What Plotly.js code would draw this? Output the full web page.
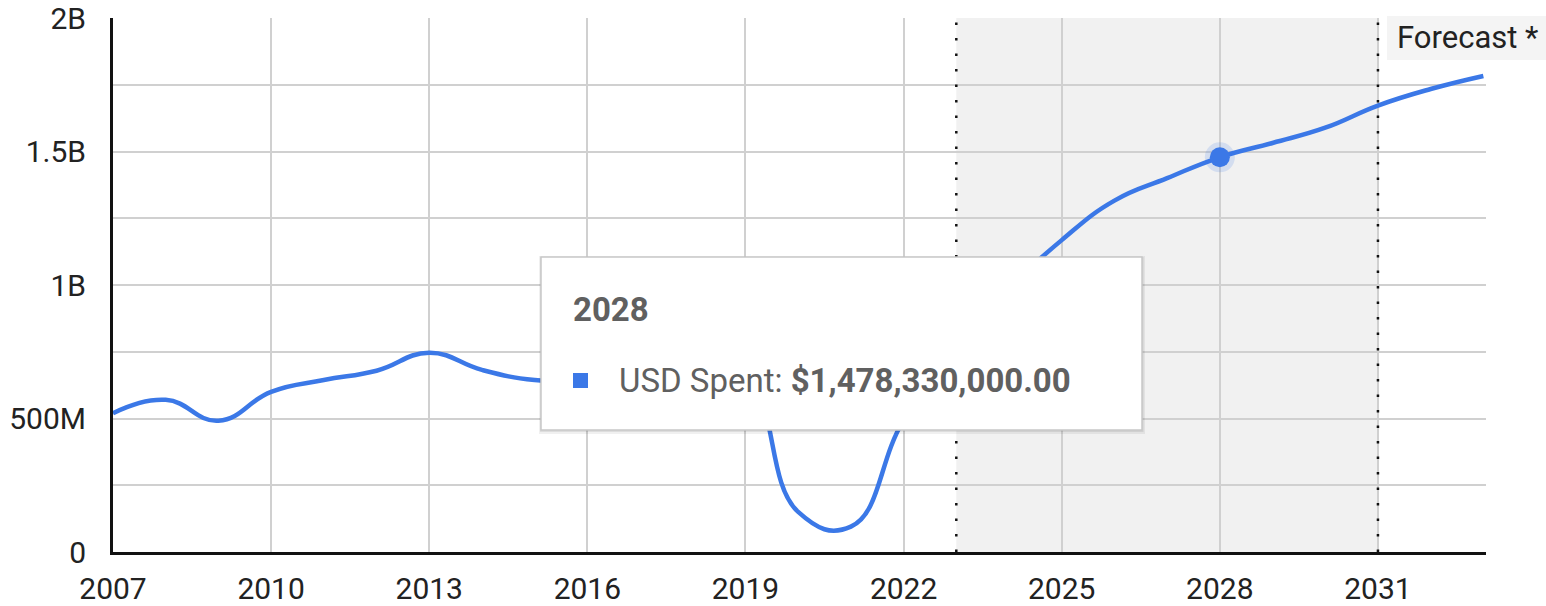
<!DOCTYPE html>
<html>
<head>
<meta charset="utf-8">
<script src="https://cdn.plot.ly/plotly-3.0.1.min.js"></script>
<style>
  html, body { margin: 0; padding: 0; background: #ffffff; }
  #chart { width: 1546px; height: 606px; }
</style>
</head>
<body>
<div id="chart"></div>
<script>
// ---------------- data ----------------
const years = [2007, 2008, 2009, 2010, 2011, 2012, 2013, 2014, 2015, 2016,
               2017, 2018, 2019, 2020, 2021, 2022, 2023, 2024, 2025, 2026,
               2027, 2028, 2029, 2030, 2031, 2032, 2033];
const usdSpent = [520e6, 570e6, 492e6, 600e6, 644e6, 679e6, 746e6, 682e6, 644e6, 640e6,
                  655e6, 680e6, 660e6, 150e6, 95e6, 494e6, 760e6, 985e6, 1168e6, 1316e6,
                  1400e6, 1478.33e6, 1532e6, 1589e6, 1672e6, 1734e6, 1783e6];
const xTickVals = [2007, 2010, 2013, 2016, 2019, 2022, 2025, 2028, 2031];
const xTickText = ["2007", "2010", "2013", "2016", "2019", "2022", "2025", "2028", "2031"];
const yTickVals = [0, 5e8, 1e9, 1.5e9, 2e9];
const yTickText = ["0", "500M", "1B", "1.5B", "2B"];
const forecastStart = 2023;
const forecastEnd = 2031;
const forecastLabel = "Forecast *";
const seriesName = "USD Spent";
const highlightYear = 2028;

// ---------------- layout helpers ----------------
const W = 1546, H = 606;
const ML = 113, MR = 60, MT = 18, MB = 54;
const PW = W - ML - MR, PH = H - MT - MB;
const px = x => (x - ML) / PW;          // pixel -> paper x
const py = y => (MT + PH - y) / PH;     // pixel -> paper y

const blue = "#3b78e7";
const hiIdx = years.indexOf(highlightYear);
const hiVal = usdSpent[hiIdx];
const hiText = "$" + hiVal.toLocaleString("en-US", {minimumFractionDigits: 2, maximumFractionDigits: 2});

const traces = [
  {
    x: years, y: usdSpent, type: "scatter", mode: "lines",
    line: {color: blue, width: 4.5, shape: "spline", smoothing: 1.3},
    hoverinfo: "skip"
  },
  {
    x: [highlightYear], y: [hiVal], type: "scatter", mode: "markers",
    marker: {color: "rgba(59,120,231,0.16)", size: 30, line: {width: 0}},
    hoverinfo: "skip"
  },
  {
    x: [highlightYear], y: [hiVal], type: "scatter", mode: "markers",
    marker: {color: blue, size: 20, line: {width: 0}},
    hoverinfo: "skip"
  }
];

const tipX0 = 541, tipX1 = 1142, tipY0 = 257, tipY1 = 430;

const shapes = [
  {type: "rect", layer: "below", xref: "x", yref: "paper",
   x0: forecastStart, x1: forecastEnd, y0: 0, y1: 1,
   fillcolor: "#f1f1f1", line: {width: 0}},
  {type: "line", layer: "above", xref: "x", yref: "paper",
   x0: forecastStart, x1: forecastStart, y0: 0, y1: 1,
   line: {color: "#111", width: 2.5, dash: "2.5px,13px"}},
  {type: "line", layer: "above", xref: "x", yref: "paper",
   x0: forecastEnd, x1: forecastEnd, y0: 0, y1: 1,
   line: {color: "#111", width: 2.5, dash: "2.5px,13px"}},
  // forecast label background
  {type: "rect", layer: "above", xref: "paper", yref: "paper",
   x0: px(1387), x1: px(1546), y0: py(60), y1: py(16),
   fillcolor: "#f4f4f4", line: {width: 0}},
  // tooltip shadow
  {type: "rect", layer: "above", xref: "paper", yref: "paper",
   x0: px(tipX0 - 2), x1: px(tipX1 + 3), y0: py(tipY1 + 4), y1: py(tipY0 - 1),
   fillcolor: "rgba(0,0,0,0.06)", line: {width: 0}},
  {type: "rect", layer: "above", xref: "paper", yref: "paper",
   x0: px(tipX0 - 1), x1: px(tipX1 + 1.5), y0: py(tipY1 + 2), y1: py(tipY0),
   fillcolor: "rgba(0,0,0,0.08)", line: {width: 0}},
  // tooltip box
  {type: "rect", layer: "above", xref: "paper", yref: "paper",
   x0: px(tipX0), x1: px(tipX1), y0: py(tipY1), y1: py(tipY0),
   fillcolor: "#ffffff", line: {color: "#c8c8c8", width: 1.5}},
  // legend square in tooltip
  {type: "rect", layer: "above", xref: "paper", yref: "paper",
   x0: px(573), x1: px(588), y0: py(388), y1: py(373),
   fillcolor: blue, line: {width: 0}}
];

const annotations = [
  {xref: "paper", yref: "paper", x: px(1395), y: py(38), xanchor: "left", yanchor: "middle",
   text: forecastLabel, showarrow: false,
   font: {family: "Roboto", size: 31, color: "#222"}},
  {xref: "paper", yref: "paper", x: px(571), y: py(309), xanchor: "left", yanchor: "middle",
   text: "<b>" + highlightYear + "</b>", showarrow: false,
   font: {family: "Roboto", size: 33, color: "#606060"}},
  {xref: "paper", yref: "paper", x: px(617), y: py(380), xanchor: "left", yanchor: "middle",
   text: seriesName + ": <b>" + hiText + "</b>", showarrow: false,
   font: {family: "Roboto", size: 33, color: "#606060"}}
];

const layout = {
  width: W, height: H,
  margin: {l: ML, r: MR, t: MT, b: MB, pad: 0},
  paper_bgcolor: "#ffffff", plot_bgcolor: "#ffffff",
  showlegend: false,
  hovermode: false,
  font: {family: "Roboto", size: 30, color: "#222"},
  xaxis: {
    range: [2007, 2033.05],
    tickmode: "array", tickvals: xTickVals, ticktext: xTickText,
    showgrid: true, gridcolor: "#d0d0d0", gridwidth: 2,
    showline: true, linecolor: "#111", linewidth: 3,
    zeroline: false, ticks: "", ticklabelstandoff: 8,
    tickfont: {family: "Roboto", size: 30, color: "#222"},
    fixedrange: true
  },
  yaxis: {
    range: [0, 2e9],
    tickmode: "array", tickvals: yTickVals, ticktext: yTickText,
    showgrid: true, gridcolor: "#d0d0d0", gridwidth: 2,
    minor: {dtick: 2.5e8, showgrid: true, gridcolor: "#d0d0d0", gridwidth: 2},
    showline: true, linecolor: "#111", linewidth: 3,
    zeroline: false, ticks: "", ticklabelstandoff: 18,
    tickfont: {family: "Roboto", size: 30, color: "#222"},
    fixedrange: true
  },
  shapes: shapes,
  annotations: annotations
};

Plotly.newPlot("chart", traces, layout, {staticPlot: true, displayModeBar: false});
</script>
</body>
</html>
